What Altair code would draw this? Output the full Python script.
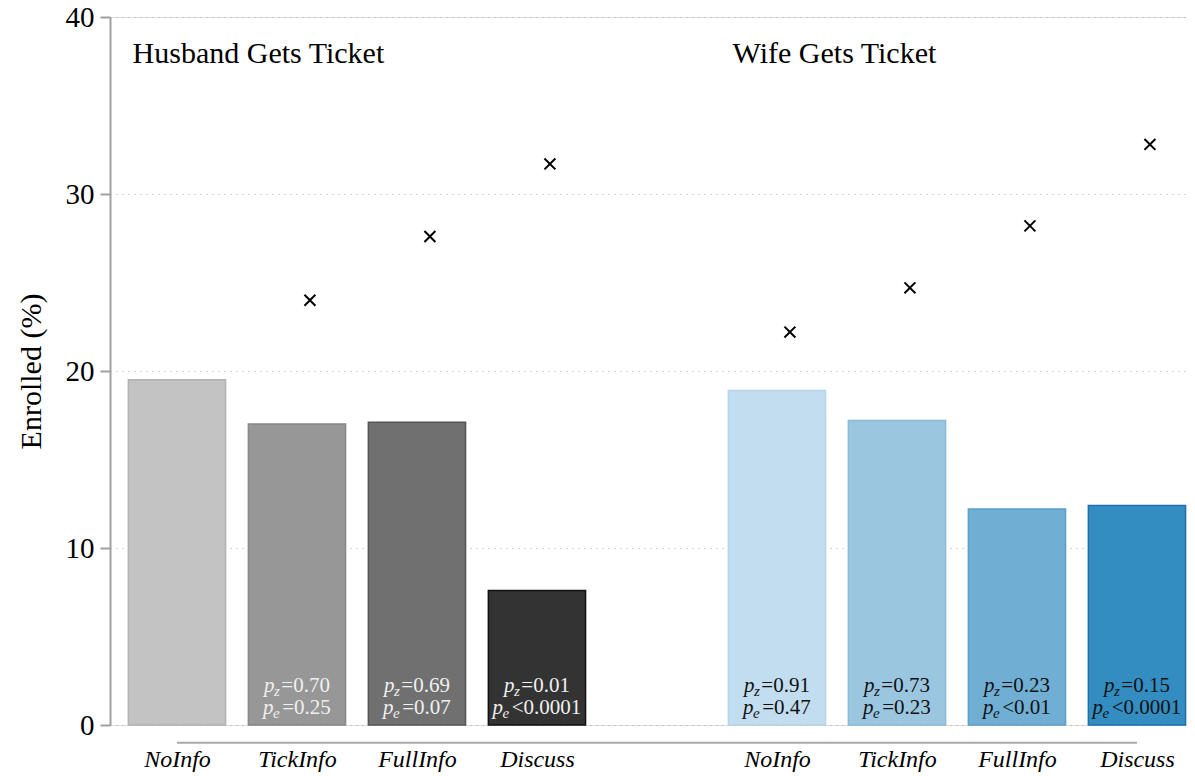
import altair as alt
import pandas as pd

# ---------------- data ----------------
conditions = ["NoInfo", "TickInfo", "FullInfo", "Discuss"]
groups = ["Husband Gets Ticket", "Wife Gets Ticket"]

husband_enrolled = [19.5, 17.0, 17.1, 7.6]
wife_enrolled = [18.9, 17.2, 12.2, 12.4]

husband_cross = [None, 24.0, 27.6, 31.7]
wife_cross = [22.2, 24.7, 28.2, 32.8]

husband_pz = [None, "=0.70", "=0.69", "=0.01"]
husband_pe = [None, "=0.25", "=0.07", "<0.0001"]
wife_pz = ["=0.91", "=0.73", "=0.23", "=0.15"]
wife_pe = ["=0.47", "=0.23", "<0.01", "<0.0001"]

husband_fill = ["#c3c3c3", "#979797", "#707070", "#333333"]
husband_stroke = ["#b2b2b2", "#888888", "#555555", "#111111"]
wife_fill = ["#c2ddef", "#9bc6e0", "#70aed3", "#348dc1"]
wife_stroke = ["#b4d4ea", "#86badc", "#5aa0cb", "#1c72ad"]

# ---------------- layout ----------------
WIDTH, HEIGHT = 1077, 708
X_MIN, X_MAX = -0.558, 8.417
PX = WIDTH / (X_MAX - X_MIN)  # pixels per slot
FONT = "Liberation Serif"
LF = 21      # p-label font size
SF = 15      # subscript font size

group_slots = [[0, 1, 2, 3], [5, 6, 7, 8]]

bar_rows, cross_rows, lab_rows = [], [], []
all_vals = [husband_enrolled, wife_enrolled]
all_cross = [husband_cross, wife_cross]
all_pz = [husband_pz, wife_pz]
all_pe = [husband_pe, wife_pe]
all_fill = [husband_fill, wife_fill]
all_stroke = [husband_stroke, wife_stroke]
lab_colors = ["#f0f0f0", "#111111"]

CW = {"0": .5, "1": .5, "2": .5, "3": .5, "4": .5, "5": .5, "6": .5, "7": .5,
      "8": .5, "9": .5, ".": .25, "=": .564, "<": .564}
SUBW = {"z": .389 * SF + 1.0, "e": .444 * SF + 2.0}
PW = 0.5 * LF


def val_width(s):
    return sum(CW.get(c, .5) for c in s) * LF


keys, fills, strokes = [], [], []
for g in range(2):
    for i, c in enumerate(conditions):
        slot = group_slots[g][i]
        key = f"{g}-{c}"
        keys.append(key)
        fills.append(all_fill[g][i])
        strokes.append(all_stroke[g][i])
        bar_rows.append({"slot": slot, "value": all_vals[g][i], "key": key})
        if all_cross[g][i] is not None:
            cross_rows.append({"slot": slot, "value": all_cross[g][i]})
        for line, (sub, arr) in enumerate([("z", all_pz), ("e", all_pe)]):
            s = arr[g][i]
            if s is None:
                continue
            w = PW + SUBW[sub] + val_width(s)
            start = -w / 2
            lab_rows.append({"slot": slot, "line": line, "piece": "p", "txt": "p",
                             "off": start, "col": lab_colors[g]})
            lab_rows.append({"slot": slot, "line": line, "piece": "sub", "txt": sub,
                             "off": start + PW - 0.5, "col": lab_colors[g]})
            lab_rows.append({"slot": slot, "line": line, "piece": "val", "txt": s,
                             "off": start + PW + SUBW[sub], "col": lab_colors[g]})

bars = pd.DataFrame(bar_rows)
crosses = pd.DataFrame(cross_rows)
labs = pd.DataFrame(lab_rows)
titles = pd.DataFrame({"name": groups, "slot": [s[0] for s in group_slots]})
axis_line = pd.DataFrame({"x0": [group_slots[0][0]], "x1": [group_slots[1][-1]]})

xscale = alt.Scale(domain=[X_MIN, X_MAX], nice=False, zero=False)
yscale = alt.Scale(domain=[0, 40], nice=False)

label_arr = ["''"] * 9
for g in range(2):
    for i, c in enumerate(conditions):
        label_arr[group_slots[g][i]] = f"'{c}'"
label_expr = "[" + ",".join(label_arr) + "][datum.value]"

base_x_axis = alt.Axis(values=group_slots[0] + group_slots[1], labelExpr=label_expr,
                       domain=False, ticks=False, grid=False, title=None,
                       labelFont=FONT, labelFontStyle="italic", labelFontSize=24,
                       labelColor="#000000", labelPadding=41, labelBaseline="alphabetic")

y_axis = alt.Axis(values=[0, 10, 20, 30, 40], title="Enrolled (%)",
                  titleFont=FONT, titleFontSize=30, titleFontWeight="normal",
                  titleColor="#000000", titlePadding=19,
                  labelFont=FONT, labelFontSize=29, labelColor="#000000", labelPadding=6,
                  domainColor="#a0a0a0", domainWidth=2, tickColor="#a0a0a0",
                  tickWidth=2, tickSize=10, grid=True, gridColor="#a8a8a8",
                  gridDash=[1, 5], gridWidth=1)

bar_layer = alt.Chart(bars).transform_calculate(
    x0="datum.slot - 0.405", x1="datum.slot + 0.405"
).mark_bar(strokeWidth=1.5).encode(
    x=alt.X("x0:Q", scale=xscale, axis=base_x_axis),
    x2="x1:Q",
    y=alt.Y("value:Q", scale=yscale, axis=y_axis),
    y2=alt.datum(0),
    fill=alt.Fill("key:N", scale=alt.Scale(domain=keys, range=fills), legend=None),
    stroke=alt.Stroke("key:N", scale=alt.Scale(domain=keys, range=strokes), legend=None),
)

cross_layer = alt.Chart(crosses).transform_calculate(
    xc="datum.slot + 0.108"
).mark_point(shape="M-1,-1L1,1M-1,1L1,-1", filled=False, color="#000000",
             strokeWidth=2, size=120, opacity=1).encode(
    x=alt.X("xc:Q", scale=xscale),
    y=alt.Y("value:Q", scale=yscale),
)

axisline_layer = alt.Chart(axis_line).mark_rule(color="#a8a8a8", strokeWidth=2).encode(
    x=alt.X("x0:Q", scale=xscale),
    x2="x1:Q",
    y=alt.datum(-1.0),
)

title_layer = alt.Chart(titles).transform_calculate(
    tx="datum.slot - 0.37"
).mark_text(font=FONT, fontSize=30, align="left", baseline="alphabetic",
            color="#000000").encode(
    x=alt.X("tx:Q", scale=xscale),
    y=alt.datum(37.4),
    text="name:N",
)


def piece_layer(piece, line, size, style, dy):
    return alt.Chart(labs).transform_filter(
        f"datum.piece == '{piece}' && datum.line == {line}"
    ).transform_calculate(
        lx=f"datum.slot + datum.off / {PX}"
    ).mark_text(font=FONT, fontSize=size, fontStyle=style, align="left",
                baseline="alphabetic", dy=dy).encode(
        x=alt.X("lx:Q", scale=xscale),
        y=alt.datum(0),
        text="txt:N",
        color=alt.Color("col:N", scale=None),
    )


label_layers = []
for line, base_dy in [(0, -33), (1, -11)]:
    label_layers.append(piece_layer("p", line, LF, "italic", base_dy))
    label_layers.append(piece_layer("sub", line, SF, "italic", base_dy + 4))
    label_layers.append(piece_layer("val", line, LF, "normal", base_dy))

chart = alt.layer(
    bar_layer, cross_layer, axisline_layer, title_layer, *label_layers
).properties(
    width=WIDTH, height=HEIGHT,
    autosize=alt.AutoSizeParams(type="none"),
    padding={"left": 102, "top": 9, "right": 0, "bottom": 48},
).configure_view(stroke=None).configure(background="white")

chart.save("out.html", embed_options={"renderer": "svg", "actions": False})
